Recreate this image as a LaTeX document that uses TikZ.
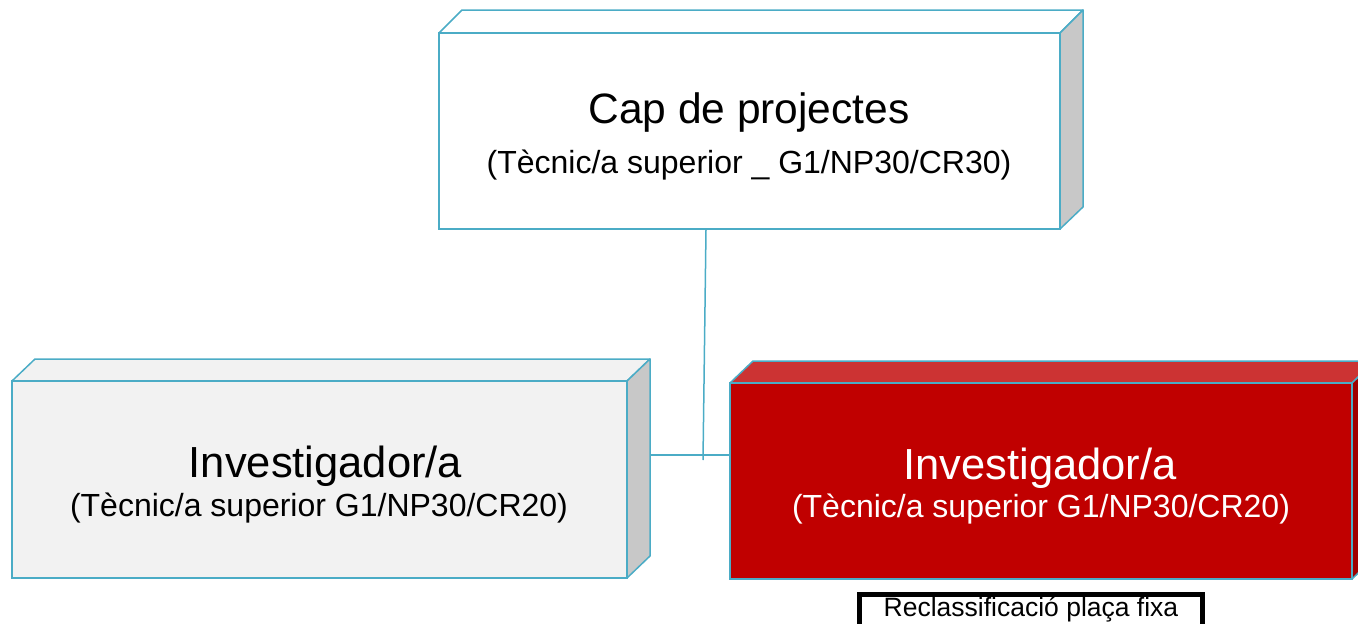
\documentclass[tikz,border=0pt]{standalone}
\usepackage{fontspec}
\setmainfont{Liberation Sans}
\definecolor{edge}{HTML}{4BACC6}
\definecolor{lightface}{HTML}{F2F2F2}
\definecolor{sideface}{HTML}{C8C8C8}
\definecolor{redfront}{HTML}{C00000}
\definecolor{redtop}{HTML}{CC3333}
\definecolor{redside}{HTML}{A00000}
\tikzset{
  front/.style={draw=edge, line width=1.5pt, minimum width=#1, inner sep=0pt, align=center},
  face/.style={draw=edge, line width=1.5pt, line join=round},
  conn/.style={draw=edge, line width=1.5pt},
  bigt/.style={anchor=base, inner sep=0pt, font=\fontsize{42.5}{50}\selectfont},
  bigtt/.style={anchor=base, inner sep=0pt, font=\fontsize{43.5}{50}\selectfont},
  smallt/.style={anchor=base, inner sep=0pt, font=\fontsize{32}{38}\selectfont},
  tag/.style={draw=black, line width=5pt, inner sep=0pt}
}
\begin{document}
\begin{tikzpicture}[x=1pt,y=-1pt]
\useasboundingbox (0,0) rectangle (1358,624);
\clip (0,0) rectangle (1358,624);
% top box
\draw[face, fill=white] (439,33) -- (462,10) -- (1083,10) -- (1060,33) -- cycle;
\draw[face, fill=sideface] (1060,33) -- (1083,10) -- (1083,207) -- (1060,229) -- cycle;
\node[front=621pt, minimum height=196pt, fill=white] (top) at (749.5,131) {};
\node[bigt] (toptitle) at (749,123) {Cap de projectes};
\node[smallt] (topsub) at (749,173) {(Tècnic/a superior \_ G1/NP30/CR30)};
% left box
\draw[face, fill=lightface] (12,381) -- (35,359) -- (650,359) -- (627,381) -- cycle;
\draw[face, fill=sideface] (627,381) -- (650,359) -- (650,556) -- (627,578) -- cycle;
\node[front=615pt, minimum height=197pt, fill=lightface] (left) at (319.5,479.5) {};
\node[bigtt] (lefttitle) at (325.5,477) {Investigador/a};
\node[smallt] (leftsub) at (319,516) {(Tècnic/a superior G1/NP30/CR20)};
% red box
\draw[face, fill=redtop] (730,383) -- (753,361) -- (1375,361) -- (1352,383) -- cycle;
\draw[face, fill=redside] (1352,383) -- (1375,361) -- (1375,557) -- (1352,579) -- cycle;
\node[front=622pt, minimum height=196pt, fill=redfront] (red) at (1041,481) {};
\node[bigtt, text=white] (redtitle) at (1040,479) {Investigador/a};
\node[smallt, text=white] (redsub) at (1041,517) {(Tècnic/a superior G1/NP30/CR20)};
% connectors
\coordinate (lside) at (650,455);
\coordinate (vend) at (703,460);
\draw[conn] (top.south -| 706,0) -- (vend);
\draw[conn] (lside) -- (red.west |- lside);
% tag
\node[tag, minimum width=343pt, minimum height=45pt, anchor=north] (tag) at (1030.5,592) {};
\node[anchor=base, inner sep=0pt, font=\fontsize{26.5}{30}\selectfont] (tagtext) at (1031,616) {Reclassificació plaça fixa};
\end{tikzpicture}
\end{document}
